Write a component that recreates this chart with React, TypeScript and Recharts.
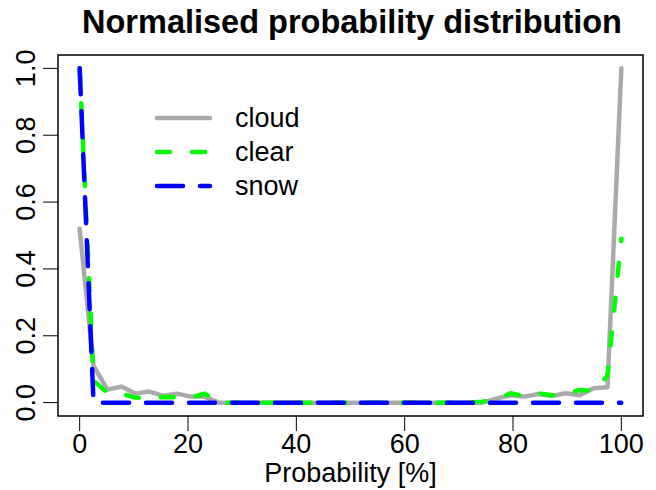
import React from 'react';
import { LineChart, Line, XAxis, YAxis, ReferenceArea, Legend } from 'recharts';

// bin centres (%), 40 bins across 0..100
const probability = [
  0, 2.56, 5.13, 7.69, 10.26, 12.82, 15.38, 17.95, 20.51, 23.08,
  25.64, 28.21, 30.77, 33.33, 35.9, 38.46, 41.03, 43.59, 46.15, 48.72,
  51.28, 53.85, 56.41, 58.97, 61.54, 64.1, 66.67, 69.23, 71.79, 74.36,
  76.92, 79.49, 82.05, 84.62, 87.18, 89.74, 92.31, 94.87, 97.44, 100,
];

const cloud = [
  0.52, 0.11, 0.039, 0.048, 0.027, 0.033, 0.021, 0.027, 0.018, 0.018,
  0, 0, 0, 0, 0, 0, 0, 0, 0, 0,
  0, 0, 0, 0, 0, 0, 0, 0, 0, 0,
  0.012, 0.022, 0.018, 0.026, 0.02, 0.028, 0.022, 0.043, 0.046, 1.0,
];

const clear = [
  1.0, 0.065, 0.03, 0.027, 0.015, 0.013, 0.017, 0.016, 0.015, 0.027,
  0, 0, 0, 0, 0, 0, 0, 0, 0, 0,
  0, 0, 0, 0, 0, 0, 0, 0, 0, 0.003,
  0.01, 0.028, 0.02, 0.028, 0.022, 0.025, 0.038, 0.035, 0.08, 0.49,
];

const snow = [
  1.0, 0, 0, 0, 0, 0, 0, 0, 0, 0,
  0, 0, 0, 0, 0, 0, 0, 0, 0, 0,
  0, 0, 0, 0, 0, 0, 0, 0, 0, 0,
  0, 0, 0, 0, 0, 0, 0, 0, 0, 0,
];

const xTicks = [0, 20, 40, 60, 80, 100];
const yTicks = [0, 0.2, 0.4, 0.6, 0.8, 1.0];

const SERIES = [
  { key: 'cloud', color: '#aaaaaa', dash: undefined as string | undefined, width: 4.5 },
  { key: 'clear', color: '#00ff00', dash: '13 22', width: 4.5 },
  { key: 'snow', color: '#0000ff', dash: '26 17', width: 4.5 },
];

const data = probability.map((x, i) => ({ x, cloud: cloud[i], clear: clear[i], snow: snow[i] }));

const FONT = '"Liberation Sans", Arial, Helvetica, sans-serif';

const XTick = (props: any) => (
  <text x={props.x} y={props.y + 22} textAnchor="middle" fontSize={27} fontFamily={FONT} fill="#000">
    {props.payload.value}
  </text>
);

const YTick = (props: any) => (
  <text
    transform={`translate(${props.x - 8},${props.y}) rotate(-90)`}
    textAnchor="middle"
    fontSize={27}
    fontFamily={FONT}
    fill="#000"
  >
    {Number(props.payload.value).toFixed(1)}
  </text>
);

const renderLegend = () => (
  <svg width={200} height={110}>
    {SERIES.map((s, i) => {
      const y = 18 + i * 34;
      return (
        <g key={s.key}>
          <line x1={7} x2={60} y1={y} y2={y} stroke={s.color} strokeWidth={s.width}
            strokeDasharray={s.dash} strokeLinecap="round" />
          <text x={85} y={y + 9} fontSize={27} fontFamily={FONT} fill="#000">{s.key}</text>
        </g>
      );
    })}
  </svg>
);

export default function App() {
  return (
    <div style={{ position: 'absolute', left: 0, top: 0, width: 656, height: 490, background: '#fff' }}>
      <LineChart width={656} height={490} data={data} margin={{ top: 55, right: 13, bottom: 0, left: 0 }}>
        <XAxis
          type="number"
          dataKey="x"
          domain={[-4, 104]}
          ticks={xTicks}
          interval={0}
          allowDataOverflow
          axisLine={false}
          tickLine={{ stroke: '#000', strokeWidth: 1 }}
          tickSize={15}
          tickMargin={0}
          height={74}
          tick={<XTick />}
        />
        <YAxis
          type="number"
          domain={[-0.04, 1.04]}
          ticks={yTicks}
          interval={0}
          allowDataOverflow
          axisLine={false}
          tickLine={{ stroke: '#000', strokeWidth: 1 }}
          tickSize={15}
          tickMargin={0}
          width={58}
          tick={<YTick />}
        />
        <ReferenceArea x1={-4} x2={104} y1={-0.04} y2={1.04} fill="none" fillOpacity={0}
          stroke="#000" strokeWidth={1.5} ifOverflow="visible" />
        {SERIES.map((s) => (
          <Line
            key={s.key}
            type="linear"
            dataKey={s.key}
            stroke={s.color}
            strokeWidth={s.width}
            strokeDasharray={s.dash}
            strokeLinecap="round"
            strokeLinejoin="round"
            dot={false}
            activeDot={false}
            isAnimationActive={false}
          />
        ))}
        <Legend
          layout="vertical"
          align="center"
          verticalAlign="middle"
          content={renderLegend}
          wrapperStyle={{ position: 'absolute', left: 150, top: 100, width: 200, height: 110 }}
        />
      </LineChart>
      <svg width={656} height={490} style={{ position: 'absolute', left: 0, top: 0, pointerEvents: 'none' }}>
        <text x={352} y={33} textAnchor="middle" fontSize={32.5} fontWeight="bold" fontFamily={FONT} fill="#000">
          Normalised probability distribution
        </text>
        <text x={350.5} y={482} textAnchor="middle" fontSize={27} fontFamily={FONT} fill="#000">
          Probability [%]
        </text>
      </svg>
    </div>
  );
}
